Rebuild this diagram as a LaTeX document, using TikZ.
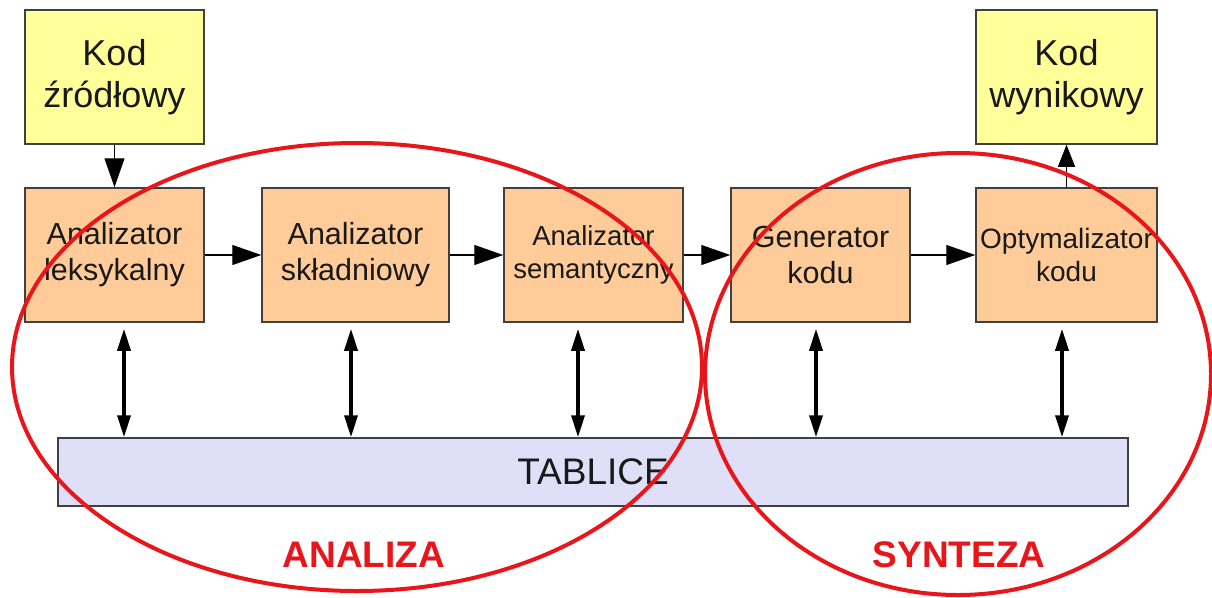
\documentclass[tikz,border=0pt]{standalone}
\usepackage{fontspec}
\setmainfont{Liberation Sans}
\usetikzlibrary{positioning, arrows.meta}
\usepackage{xcolor}

\definecolor{kodyellow}{HTML}{FFFF99}
\definecolor{krokorange}{HTML}{FFCC99}
\definecolor{tabblue}{HTML}{DFDFF7}
\definecolor{fazared}{HTML}{E8151B}
\definecolor{ramka}{HTML}{404040}

\begin{document}
\begin{tikzpicture}[x=1pt, y=-1pt,
    kod/.style={draw=ramka, line width=1.5pt, fill=kodyellow, minimum height=134pt,
        inner sep=0pt, align=center, text=black!90, font=\fontsize{36}{42}\selectfont},
    krok/.style={draw=ramka, line width=1.5pt, fill=krokorange, minimum height=134pt,
        inner sep=0pt, align=center, text=black!90, font=\fontsize{30.5}{36}\selectfont},
    tok/.style={-{Triangle[length=29pt, width=20pt]}, line width=1.2pt},
    dwu/.style={{Triangle[length=22pt, width=13pt]}-{Triangle[length=22pt, width=13pt]},
        line width=3.5pt, shorten <=6pt},
    faza/.style={draw=fazared, line width=4pt},
    fazatxt/.style={text=fazared, font=\fontsize{37}{40}\selectfont\bfseries}]

        \useasboundingbox (0,0) rectangle (1212,597);

        % Source and target code
        \node[kod, minimum width=179pt] (zrodlo) at (114.5,77) {Kod\\źródłowy};
        \node[kod, minimum width=181pt] (wynik) at (1066.5,77) {Kod\\wynikowy};

        % Compiler phases
        \node[krok, minimum width=179pt] (leks) at (114.5,255) {Analizator\\leksykalny};
        \node[krok, minimum width=187pt] (skl) at (355.5,255) {Analizator\\składniowy};
        \node[krok, minimum width=179pt, font=\fontsize{27.5}{33}\selectfont] (sem) at (593.5,255) {Analizator\\semantyczny};
        \node[krok, minimum width=179pt] (gen) at (820.5,255) {Generator\\kodu};
        \node[krok, minimum width=181pt, font=\fontsize{28}{33}\selectfont] (opt) at (1066.5,255) {Optymalizator\\kodu};

        % Tables
        \node[draw=ramka, line width=1.5pt, fill=tabblue, minimum width=1070pt, minimum height=68pt,
            inner sep=0pt, text=black!90, font=\fontsize{37}{40}\selectfont] (tab) at (593,472) {TABLICE};

        % Data flow
        \draw[tok] (zrodlo) -- (leks);
        \draw[tok] (leks) -- (skl);
        \draw[tok] (skl) -- (sem);
        \draw[tok] (sem) -- (gen);
        \draw[tok] (gen) -- (opt);
        \draw[tok, -{Triangle[length=22pt, width=17pt]}] (opt) -- (wynik);

        % Access to tables
        \draw[dwu] ([xshift=9.5pt]leks.south) -- ([xshift=9.5pt]leks.south |- tab.north);
        \draw[dwu] ([xshift=-4.5pt]skl.south) -- ([xshift=-4.5pt]skl.south |- tab.north);
        \draw[dwu] ([xshift=-15.5pt]sem.south) -- ([xshift=-15.5pt]sem.south |- tab.north);
        \draw[dwu] ([xshift=-4.5pt]gen.south) -- ([xshift=-4.5pt]gen.south |- tab.north);
        \draw[dwu] ([xshift=-4.5pt]opt.south) -- ([xshift=-4.5pt]opt.south |- tab.north);

        % Analysis and synthesis
        \draw[faza] (357,367) ellipse [x radius=345, y radius=224];
        \draw[faza] (958,374) ellipse [x radius=253, y radius=221];
        \node[fazatxt] (analiza) at (364,555) {ANALIZA};
        \node[fazatxt] (synteza) at (959,555) {SYNTEZA};

    \end{tikzpicture}
\end{document}
